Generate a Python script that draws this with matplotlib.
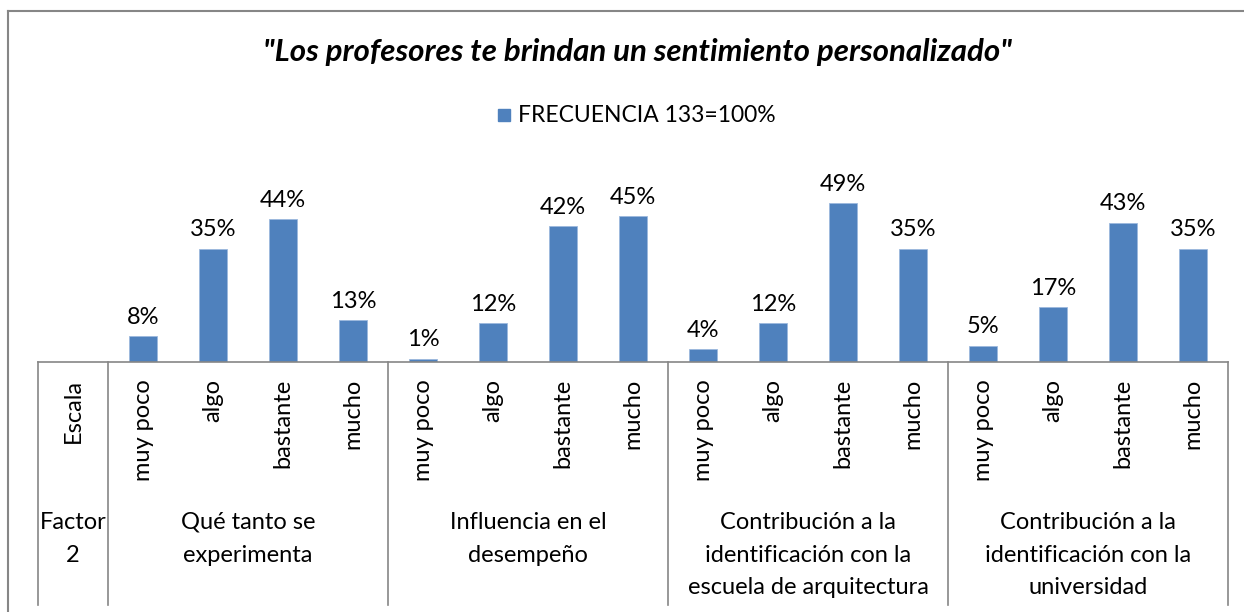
import numpy as np
import matplotlib.pyplot as plt
from matplotlib.patches import Rectangle

escala = ['muy poco', 'algo', 'bastante', 'mucho']
factores = ['Qué tanto se\nexperimenta',
            'Influencia en el\ndesempeño',
            'Contribución a la\nidentificación con la\nescuela de arquitectura',
            'Contribución a la\nidentificación con la\nuniversidad']
valores = [[8, 35, 44, 13],
           [1, 12, 42, 45],
           [4, 12, 49, 35],
           [5, 17, 43, 35]]
titulo = '"Los profesores te brindan un sentimiento personalizado"'
serie = 'FRECUENCIA 133=100%'

plt.rcParams['font.family'] = ['Lato', 'DejaVu Sans']
azul = '#4F81BD'
gris = '#868686'
fs = 17

W, H = 1244, 612
fig = plt.figure(figsize=(W / 100, H / 100), dpi=100)

# axes: x 38..1228 px, baseline at y=362, top at y=150
left, right, base, top = 38, 1228, 362, 150
ax = fig.add_axes([left / W, 1 - base / H, (right - left) / W, (base - top) / H])
px_per_pct = 3.24
ax.set_ylim(0, (base - top) / px_per_pct)
ax.set_xlim(-1.5, 15.5)

vals = np.array(valores).ravel()
x = np.arange(len(vals))
bars = ax.bar(x, vals, width=0.41, color=azul, edgecolor='#9CB9DE', linewidth=0.6)
for xi, v in zip(x, vals):
    ax.annotate(f'{v}%', (xi, v), xytext=(0, 6), textcoords='offset points',
                ha='center', va='bottom', fontsize=fs)

ax.set_xticks([])
ax.set_yticks([])
for s in ['left', 'right', 'top']:
    ax.spines[s].set_visible(False)
ax.spines['bottom'].set_color(gris)
ax.spines['bottom'].set_linewidth(1.2)

# table below the axis
tr = ax.get_xaxis_transform()
hpx = base - top
def yf(ypx):
    return (base - ypx) / hpx

for sep in [-1.5, -0.5, 3.5, 7.5, 11.5, 15.5]:
    ax.plot([sep, sep], [0, yf(605)], color=gris, lw=1.2, transform=tr, clip_on=False)

ax.text(-1, yf(379), 'Escala', rotation=90, ha='center', va='top', fontsize=fs, transform=tr)
for xi in x:
    ax.text(xi, yf(379), escala[xi % 4], rotation=90, ha='center', va='top',
            fontsize=fs, transform=tr)

ax.text(-1, yf(512), 'Factor\n2', ha='center', va='top', fontsize=fs,
        linespacing=1.68, transform=tr)
for g, name in enumerate(factores):
    ax.text(g * 4 + 1.5, yf(512), name, ha='center', va='top', fontsize=fs,
            linespacing=1.68, transform=tr)

# title and legend
fig.text(637 / W, 1 - 52 / H, titulo, ha='center', va='center', fontsize=22.5,
         fontweight='bold', fontstyle='italic')
fig.patches.append(Rectangle((498 / W, 1 - 121 / H), 12 / W, 12 / H,
                             transform=fig.transFigure, color=azul))
fig.text(518 / W, 1 - 115 / H, serie, ha='left', va='center', fontsize=16.5)

# chart border
fig.add_artist(plt.Line2D([8 / W, 8 / W], [0, 1 - 11 / H], color=gris, lw=1.5))
fig.add_artist(plt.Line2D([8 / W, 1], [1 - 11 / H, 1 - 11 / H], color=gris, lw=1.5))

fig.savefig('out.png', dpi=100)
